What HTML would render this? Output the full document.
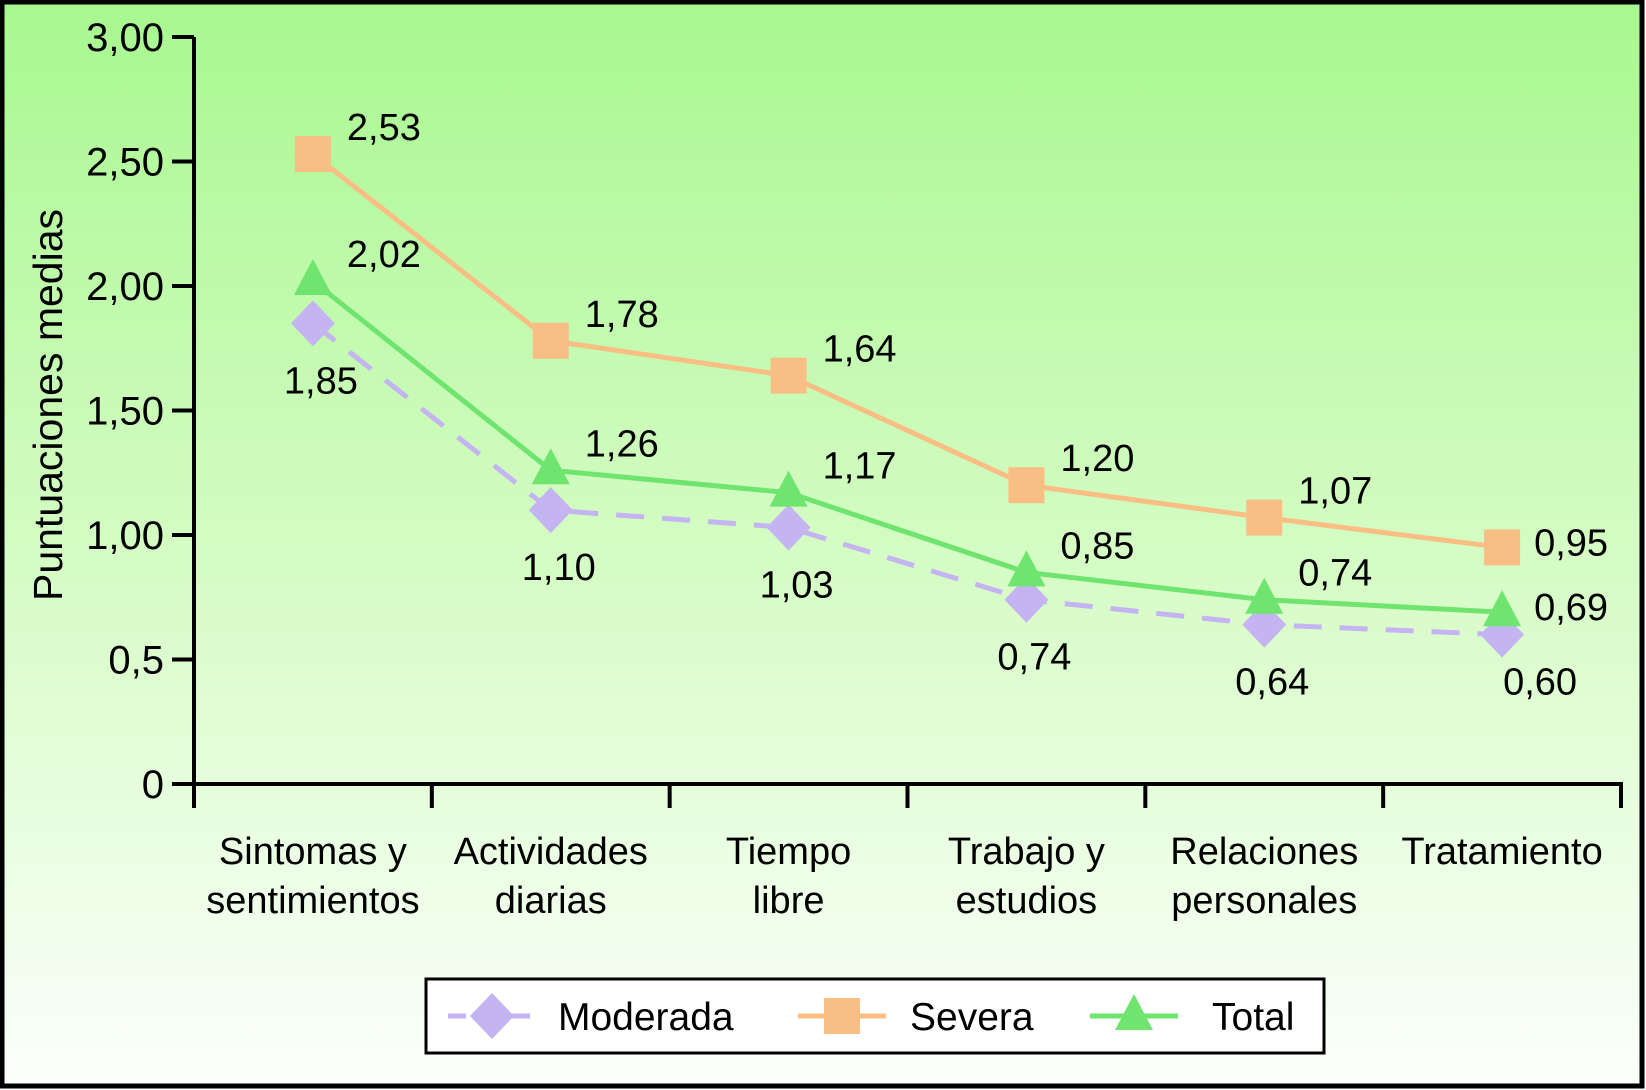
<!DOCTYPE html>
<html><head><meta charset="utf-8"><style>
html,body{margin:0;padding:0;width:1646px;height:1090px;overflow:hidden;background:#fff}
svg{display:block;font-family:"Liberation Sans",Arial,sans-serif}
</style></head><body>
<svg id="chart" width="1646" height="1090" viewBox="0 0 1646 1090">
<defs><linearGradient id="bg" x1="0" y1="0" x2="0" y2="1">
<stop offset="0" stop-color="#a8f890"/><stop offset="0.55" stop-color="#d8fcc8"/><stop offset="1" stop-color="#fcfffc"/></linearGradient></defs>
<rect x="2" y="2" width="1640" height="1084" fill="url(#bg)" stroke="#000" stroke-width="5"/>
<g id="plot"></g>
</svg>
<script>
const categories=[["Sintomas y","sentimientos"],["Actividades","diarias"],["Tiempo","libre"],["Trabajo y","estudios"],["Relaciones","personales"],["Tratamiento"]];
const moderada=[1.85,1.10,1.03,0.74,0.64,0.60];
const severa=[2.53,1.78,1.64,1.20,1.07,0.95];
const total=[2.02,1.26,1.17,0.85,0.74,0.69];
const yTicks=[0,0.5,1,1.5,2,2.5,3];
const yTickLabels=["0","0,5","1,00","1,50","2,00","2,50","3,00"];
const NS="http://www.w3.org/2000/svg";
const g=document.getElementById('plot');
const X0=194,X1=1621,Y0=784,Y1=37;
const bw=(X1-X0)/categories.length;
const x=i=>X0+bw*(i+0.5);
const y=v=>Y0-(v/3)*(Y0-Y1);
function mk(t,a,txt){const e=document.createElementNS(NS,t);for(const k in a)e.setAttribute(k,a[k]);if(txt!==undefined)e.textContent=txt;g.appendChild(e);return e;}
const fmt=v=>v.toFixed(2).replace('.',',');
let ax=mk('line',{x1:X0,y1:Y1,x2:X0,y2:Y0+24,stroke:'#000','stroke-width':4});

ax=mk('line',{x1:X0-2,y1:Y0,x2:X1+2,y2:Y0,stroke:'#000','stroke-width':4});

yTicks.forEach((t,i)=>{
 const l=mk('line',{x1:X0-22,y1:y(t),x2:X0,y2:y(t),stroke:'#000','stroke-width':4});
 
 const tx=mk('text',{x:X0-30,y:y(t)+14,'text-anchor':'end','font-size':40},yTickLabels[i]);
 
});
for(let i=0;i<=categories.length;i++){
 const l=mk('line',{x1:X0+bw*i,y1:Y0,x2:X0+bw*i,y2:Y0+24,stroke:'#000','stroke-width':4});
 
}
categories.forEach((c,i)=>{
 c.forEach((ln,j)=>{
  const t=mk('text',{x:x(i),y:864+j*49,'text-anchor':'middle','font-size':38},ln);
  
 });
});
const yl=mk('text',{x:0,y:0,'text-anchor':'middle','font-size':41,transform:'translate(62,405) rotate(-90)'},'Puntuaciones medias');

function marker(type,cx,cy,fill,name){
 let e;
 if(type==='sq')e=mk('rect',{x:cx-18,y:cy-18,width:36,height:36,fill});
 else if(type==='di')e=mk('polygon',{points:`${cx},${cy-23} ${cx+22},${cy} ${cx},${cy+23} ${cx-22},${cy}`,fill});
 else e=mk('polygon',{points:`${cx},${cy-22} ${cx+19},${cy+14} ${cx-19},${cy+14}`,fill});
 
}
function series(vals,color,dash,type,name,lab){
 const p=mk('polyline',{points:vals.map((v,i)=>x(i)+','+y(v)).join(' '),fill:'none',stroke:color,'stroke-width':5,'stroke-dasharray':dash||'none'});
 
 vals.forEach((v,i)=>{marker(type,x(i),y(v),color,name+'-point');});
 vals.forEach((v,i)=>{
  const last=i===vals.length-1;
  let tx,ty,anc='start';
  if(lab==='below'&&!last){tx=x(i)+8;ty=y(v)+70;anc='middle';}
  else if(lab==='below'&&last){tx=x(i)+38;ty=y(v)+60;anc='middle';}
  else if(last){tx=x(i)+32;ty=y(v)+8;}
  else{tx=x(i)+34;ty=y(v)-14;}
  const t=mk('text',{x:tx,y:ty,'text-anchor':anc,'font-size':38},fmt(v));
  
 });
}
series(moderada,'#c4b4f2','28 18','di','moderada','below');
series(severa,'#f9be84',null,'sq','severa','above');
series(total,'#6fe46f',null,'tr','total','above');
const lg=mk('rect',{x:426,y:979,width:898,height:74,fill:'#fff',stroke:'#000','stroke-width':3});

const items=[['Moderada','#c4b4f2','di',480,78],['Severa','#f9be84','sq',830,80],['Total','#6fe46f','tr',1122,90]];
items.forEach(([n,c,tp,lx,off])=>{
 const l=mk('line',{x1:lx-32,y1:1016,x2:lx+56,y2:1016,stroke:c,'stroke-width':5,'stroke-dasharray':tp==='di'?'18 14':'none'});
 
 marker(tp,lx+12,1016,c,'legend-marker');
 const t=mk('text',{x:lx+off,y:1030,'font-size':39},n);
 
});
</script>
</body></html>
